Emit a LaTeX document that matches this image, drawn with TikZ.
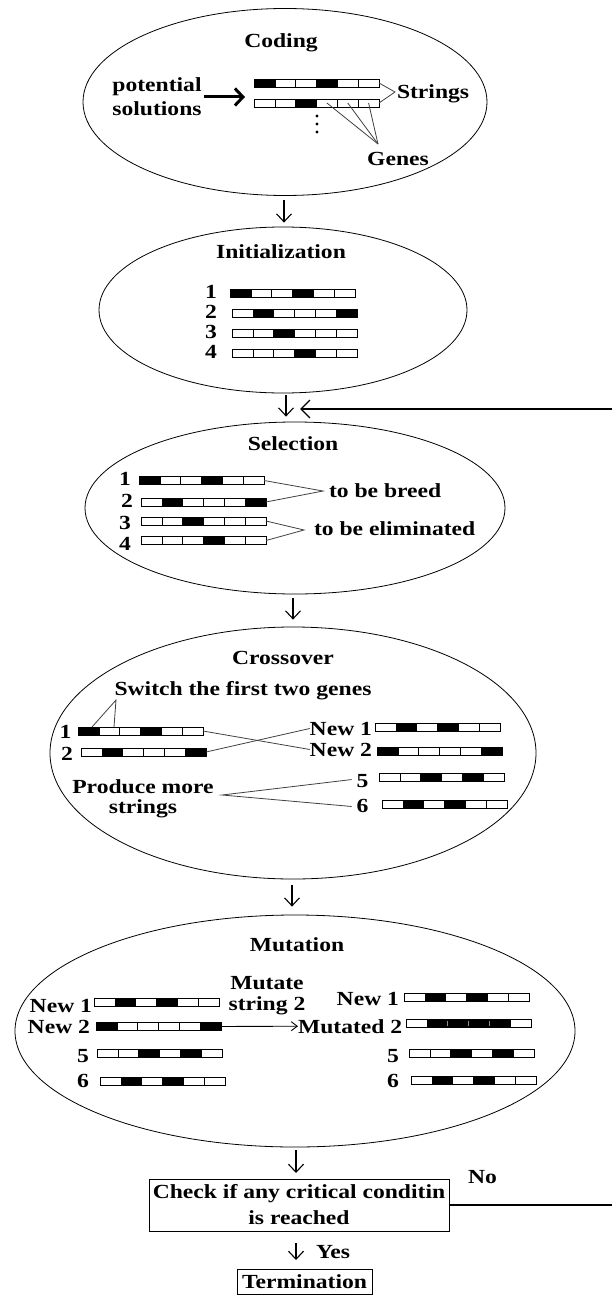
\documentclass[tikz,border=0pt]{standalone}
\usepackage{fontspec}
\setmainfont{Liberation Serif}[FakeStretch=1.18]
\usetikzlibrary{shapes.geometric,arrows.meta,calc}

\def\cw{20.8333}
\tikzset{
  lbl/.style={font=\bfseries\fontsize{20}{24}\selectfont, inner sep=0pt, outer sep=0pt},
  stage/.style={ellipse, draw, line width=0.8pt, inner sep=0pt},
  gbox/.style={draw, line width=0.9pt, minimum width=125pt, minimum height=8pt, inner sep=0pt, outer sep=0pt, anchor=west},
  flow/.style={line width=1.1pt, -{Straight Barb[length=8pt,width=15pt,line width=1.1pt]}},
  link/.style={line width=0.8pt, draw=black!75},
  fb/.style={line width=1.6pt},
  boxnode/.style={lbl, draw, line width=0.9pt, align=center},
}
\newcommand\gstring[4]{%
  \node[gbox] (#1) at (#2,#3) {};
  \foreach \gc [count=\i from 0] in {#4}{%
    \ifnum\gc=1 \fill ($(#1.south west)+(\i*\cw,0)$) rectangle ++(\cw,-8); \fi
  }
  \foreach \i in {1,...,5}{\draw[line width=0.6pt] ($(#1.south west)+(\i*\cw,0)$) -- ++(0,-8);}
}

\begin{document}
\begin{tikzpicture}[x=1pt,y=-1pt]
\useasboundingbox (0,0) rectangle (611,1295);

% ---------- Coding
\node[stage, minimum width=404pt, minimum height=187pt] (coding) at (285,102) {};
\node[lbl, anchor=base] (tcoding) at (281,48) {Coding};
\node[lbl, align=center] (pot) at (157,97) {potential\\solutions};
\gstring{cs1}{254}{83}{1,0,0,1,0,0}
\gstring{cs2}{254}{103}{0,0,1,0,0,0}
\draw[line width=3pt, -{Straight Barb[length=8pt,width=17pt,line width=3pt]}, shorten <=2pt, shorten >=9pt] (pot.east) -- (pot.east -| cs2.west);
\foreach \yy in {116,124,132} \fill (317,\yy) circle (1.6);
\node[lbl, anchor=base west] (tstrings) at (397,99) {Strings};
\coordinate (sp) at (395,92);
\draw[link] (cs1.east) -- (sp) -- (cs2.east);
\node[lbl, anchor=base] (tgenes) at (398,165) {Genes};
\coordinate (gp) at (378,144);
\foreach \k in {3,4,5} \draw[link] ($(cs2.west)+(\k*\cw+0.5*\cw,0)$) -- (gp);

% ---------- Initialization
\node[stage, minimum width=368pt, minimum height=166pt] (init) at (283,310) {};
\node[lbl, anchor=base] (tinit) at (281,258) {Initialization};
\gstring{i1}{230}{293}{1,0,0,1,0,0}
\gstring{i2}{232}{313.5}{0,1,0,0,0,1}
\gstring{i3}{232}{333.5}{0,0,1,0,0,0}
\gstring{i4}{232}{353.5}{0,0,0,1,0,0}
\node[lbl, anchor=base] (il1) at (211,298) {1};
\node[lbl, anchor=base] (il2) at (211,318.5) {2};
\node[lbl, anchor=base] (il3) at (211,338.5) {3};
\node[lbl, anchor=base] (il4) at (211,358.5) {4};

% ---------- Selection
\node[stage, minimum width=420pt, minimum height=172pt] (sel) at (295,508) {};
\node[lbl, anchor=base] (tsel) at (293,450) {Selection};
\gstring{s1}{139}{480.5}{1,0,0,1,0,0}
\gstring{s2}{141}{502}{0,1,0,0,0,1}
\gstring{s3}{141}{521}{0,0,1,0,0,0}
\gstring{s4}{141}{540.5}{0,0,0,1,0,0}
\node[lbl, anchor=base] (sl1) at (125,485) {1};
\node[lbl, anchor=base] (sl2) at (127,507) {2};
\node[lbl, anchor=base] (sl3) at (125,529) {3};
\node[lbl, anchor=base] (sl4) at (125,550) {4};
\node[lbl, anchor=base west] (breed) at (329,497) {to be breed};
\coordinate (bp) at (323,491);
\draw[link] (s1.east) -- (bp) -- (s2.east);
\node[lbl, anchor=base west] (elim) at (314,535) {to be eliminated};
\coordinate (ep) at (304,530);
\draw[link] (s3.east) -- (ep) -- (s4.east);

% ---------- Crossover
\node[stage, minimum width=486pt, minimum height=252pt] (cross) at (293,753) {};
\node[lbl, anchor=base] (tcross) at (283,664) {Crossover};
\node[lbl, anchor=base] (tswitch) at (243,695) {Switch the first two genes};
\gstring{x1}{78}{731}{1,0,0,1,0,0}
\gstring{x2}{81}{752}{0,1,0,0,0,1}
\node[lbl, anchor=base] (xl1) at (65.5,738) {1};
\node[lbl, anchor=base] (xl2) at (67,760) {2};
\coordinate (swp) at (116,700);
\draw[link] ($(x1.north west)+(14,0)$) -- (swp) -- ($(x1.north west)+(36,0)$);
\node[lbl, anchor=base east] (n1) at (372,735) {New 1};
\node[lbl, anchor=base east] (n2) at (372,756) {New 2};
\gstring{xn1}{375}{727}{0,1,0,1,0,0}
\gstring{xn2}{377}{751}{1,0,0,0,0,1}
\draw[link] (x1.east) -- (n2.west);
\draw[link] (x2.east) -- (n1.west);
\node[lbl, anchor=base] (x5) at (362.5,787) {5};
\node[lbl, anchor=base] (x6) at (362.5,812) {6};
\gstring{xs5}{379}{777.5}{0,0,1,0,1,0}
\gstring{xs6}{382}{804}{0,1,0,1,0,0}
\node[lbl, align=center, font=\bfseries\fontsize{20}{20}\selectfont] (prod) at (143,799) {Produce more\\strings};
\coordinate (pp) at (222,795);
\draw[link] ($(x5.west)+(-5,-1)$) -- (pp) -- ($(x6.west)+(-5,1)$);

% ---------- Mutation
\node[stage, minimum width=560pt, minimum height=232pt] (mut) at (295,1031) {};
\node[lbl, anchor=base] (tmut) at (297,951) {Mutation};
\node[lbl, anchor=base east] (ml1) at (92,1012) {New 1};
\gstring{m1}{94}{1002}{0,1,0,1,0,0}
\node[lbl, anchor=base east] (ml2) at (90,1033) {New 2};
\gstring{m2}{96}{1026.5}{1,0,0,0,0,1}
\node[lbl, anchor=base] (ml5) at (83,1062) {5};
\gstring{m5}{97}{1053}{0,0,1,0,1,0}
\node[lbl, anchor=base] (ml6) at (83,1087) {6};
\gstring{m6}{100}{1081}{0,1,0,1,0,0}
\node[lbl, align=center, font=\bfseries\fontsize{20}{21}\selectfont] (mutate) at (267,996) {Mutate\\string 2};
\node[lbl, anchor=base west] (mr2) at (298,1033) {Mutated 2};
\draw[line width=0.9pt, -{Straight Barb[length=6pt,width=9pt,line width=0.9pt]}] (m2.east) -- (mr2.west);
\node[lbl, anchor=base east] (mr1) at (399,1005) {New 1};
\gstring{r1}{404}{997.5}{0,1,0,1,0,0}
\gstring{r2}{406}{1023.5}{0,1,1,1,1,0}
\foreach \i in {2,3,4}{\draw[black!45, line width=0.5pt] ($(r2.south west)+(\i*\cw,-1.5)$) -- ++(0,-5);}
\node[lbl, anchor=base] (mr5) at (393,1062) {5};
\gstring{r5}{409}{1053}{0,0,1,0,1,0}
\node[lbl, anchor=base] (mr6) at (393,1087) {6};
\gstring{r6}{411}{1080}{0,1,0,1,0,0}

% ---------- Check / Termination
\node[boxnode, font=\bfseries\fontsize{20}{26}\selectfont, minimum width=300pt, minimum height=52pt] (check) at (299,1205) {Check if any critical conditin\\is reached};
\node[lbl, anchor=base west] (no) at (468,1183) {No};
\node[lbl, anchor=base west] (yes) at (316,1258) {Yes};
\node[boxnode, minimum width=135pt, minimum height=25pt] (term) at (304.5,1281.5) {Termination};

% ---------- Flow arrows
\draw[flow] ($(coding.south)+(-1,4.5)$) -- ($(init.north)+(1,-4)$);
\draw[flow] ($(init.south)+(3,2)$) -- ($(sel.north)+(-9,-5)$);
\draw[flow] ($(sel.south)+(-2,4)$) -- ($(cross.north)+(0,-7)$);
\draw[flow] ($(cross.south)+(-1,6)$) -- ($(mut.north)+(-3,-8)$);
\draw[flow] ($(mut.south)+(1,3)$) -- ($(check.north)+(-3,-6)$);
\draw[flow] ($(check.south)+(-3,12)$) -- ($(term.north)+(-8.5,-9)$);

% ---------- Feedback loop
\coordinate (fbtip) at (300,409);
\draw[fb, -{Straight Barb[length=9pt,width=18pt,line width=1.3pt]}] (check.east) -- ++(164,0) |- (fbtip);
\end{tikzpicture}
\end{document}
